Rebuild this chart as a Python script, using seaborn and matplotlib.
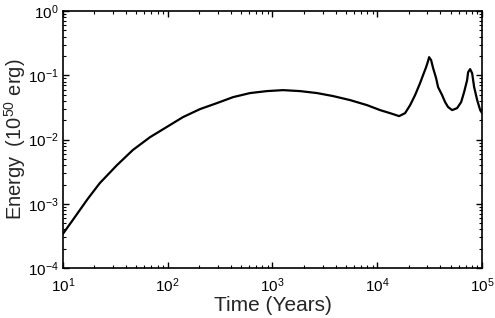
import matplotlib
matplotlib.use("Agg")
import matplotlib.pyplot as plt
import seaborn as sns
import pandas as pd
from matplotlib.ticker import LogLocator, NullFormatter

time_years = [10, 13, 17.3, 22.5, 32.8, 46.6, 67.8, 98.5, 140, 203,
              295, 420, 610, 885, 1260, 1830, 2660, 3785, 5500, 7980,
              10620, 13240, 16140, 18400, 20560, 22930, 25580, 27330, 29200, 30500,
              31200, 32600, 34050, 36380, 38000, 41500, 44350, 47350, 51750, 57700,
              63050, 67300, 71900, 73500, 76800, 80300, 83900, 89700, 95800, 100000]
energy = [3.4e-4, 6.2e-4, 1.2e-3, 2.1e-3, 4.0e-3, 6.9e-3, 0.0109, 0.0158, 0.0224, 0.0298,
          0.037, 0.0458, 0.053, 0.0569, 0.0589, 0.0569, 0.053, 0.0476, 0.0412, 0.0344,
          0.0288, 0.0258, 0.0232, 0.0258, 0.0344, 0.0493, 0.0757, 0.101, 0.134, 0.167,
          0.192, 0.173, 0.130, 0.0906, 0.0656, 0.0493, 0.0383, 0.0321, 0.0288, 0.0309,
          0.0383, 0.0548, 0.0843, 0.112, 0.125, 0.108, 0.0656, 0.0412, 0.0288, 0.0258]

df = pd.DataFrame({"t": time_years, "E": energy})

sns.set_style("ticks")
plt.rcParams["font.family"] = ["Liberation Sans", "DejaVu Sans"]
plt.rcParams["mathtext.fontset"] = "custom"
plt.rcParams["mathtext.rm"] = "Liberation Sans"
plt.rcParams["mathtext.it"] = "Liberation Sans:italic"
plt.rcParams["mathtext.default"] = "regular"

fig = plt.figure(figsize=(4.95, 3.18), dpi=100)
ax = fig.add_axes([0.127, 0.157, 0.847, 0.808])
sns.lineplot(data=df, x="t", y="E", ax=ax, color="black", linewidth=1.6,
             estimator=None, sort=False, solid_joinstyle="round")
ax.set_xscale("log")
ax.set_yscale("log")
ax.set_xlim(10, 1e5)
ax.set_ylim(1e-4, 1)
ax.xaxis.set_major_locator(LogLocator(base=10, numticks=10))
ax.yaxis.set_major_locator(LogLocator(base=10, numticks=10))
ax.xaxis.set_minor_locator(LogLocator(base=10, subs=range(2, 10), numticks=20))
ax.yaxis.set_minor_locator(LogLocator(base=10, subs=range(2, 10), numticks=20))
ax.xaxis.set_minor_formatter(NullFormatter())
ax.yaxis.set_minor_formatter(NullFormatter())
ax.tick_params(which="both", direction="in", top=True, right=True, colors="black",
               labelsize=11)
ax.tick_params(which="major", length=4.5, width=1)
ax.tick_params(axis="y", which="major", pad=3)
ax.tick_params(axis="x", which="major", pad=6)
ax.tick_params(which="minor", length=2.2, width=0.8)
for s in ax.spines.values():
    s.set_color("black")
    s.set_linewidth(1.2)
ax.set_xlabel("Time (Years)", fontsize=15, labelpad=1)
ax.set_ylabel("Energy\u2002(10$^{50}$ erg)", fontsize=14.5)
ax.yaxis.set_label_coords(-0.084, 0.5)
fig.savefig("out.png", dpi=100)
